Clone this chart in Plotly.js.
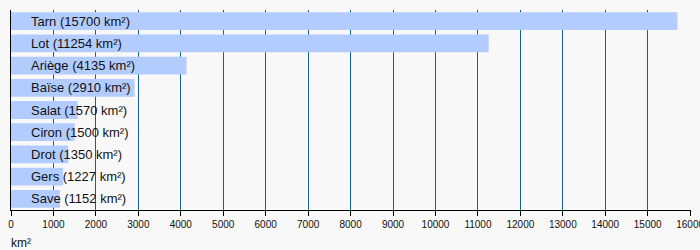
<!DOCTYPE html>
<html>
<head>
<meta charset="utf-8">
<script src="https://cdn.plot.ly/plotly-3.0.1.min.js"></script>
<style>html,body{margin:0;padding:0;background:#f8f8f8;}</style>
</head>
<body>
<div id="chart" style="width:700px;height:250px;"></div>
<script>
const rivers = ["Tarn", "Lot", "Ariège", "Baïse", "Salat", "Ciron", "Drot", "Gers", "Save"];
const areas = [15700, 11254, 4135, 2910, 1570, 1500, 1350, 1227, 1152];
const unit = "km²";
const labels = rivers.map((r, i) => r + " (" + areas[i] + " " + unit + ")");

const trace = {
  type: "bar",
  orientation: "h",
  x: areas,
  y: rivers,
  width: 0.8,
  marker: {color: "#b3ccff"},
  hoverinfo: "none"
};

const annotations = rivers.map((r, i) => ({
  x: 0, y: r, xref: "x", yref: "y",
  text: labels[i], showarrow: false,
  xanchor: "left", yanchor: "middle", xshift: 18,
  font: {family: "Liberation Sans, Arial, sans-serif", size: 13, color: "#111"}
}));
annotations.push({
  x: 0, y: 0, xref: "paper", yref: "paper", yanchor: "top", xanchor: "left",
  yshift: -24, xshift: -2,
  text: unit, showarrow: false,
  font: {family: "Liberation Sans, Arial, sans-serif", size: 12, color: "#111"}
});

const layout = {
  width: 700, height: 250,
  margin: {l: 11, r: 9, t: 10, b: 40},
  paper_bgcolor: "#f8f8f8",
  plot_bgcolor: "#f8f8f8",
  showlegend: false,
  font: {family: "Liberation Sans, Arial, sans-serif", size: 10, color: "#111"},
  xaxis: {
    range: [0, 16020], dtick: 1000, tick0: 0,
    tickformat: "d",
    ticklabeloverflow: "allow",
    showgrid: true, gridcolor: "#135e9e", gridwidth: 1,
    zeroline: false,
    showline: true, linecolor: "#000", linewidth: 1,
    ticks: "outside", ticklen: 5, tickcolor: "#000",
    tickfont: {size: 10}
  },
  yaxis: {
    type: "category",
    autorange: false, range: [8.5, -0.5],
    showgrid: false, zeroline: false,
    showline: true, linecolor: "#000", linewidth: 1,
    showticklabels: false, ticks: ""
  },
  annotations: annotations
};

Plotly.newPlot("chart", [trace], layout, {staticPlot: true, displayModeBar: false});
</script>
</body>
</html>
